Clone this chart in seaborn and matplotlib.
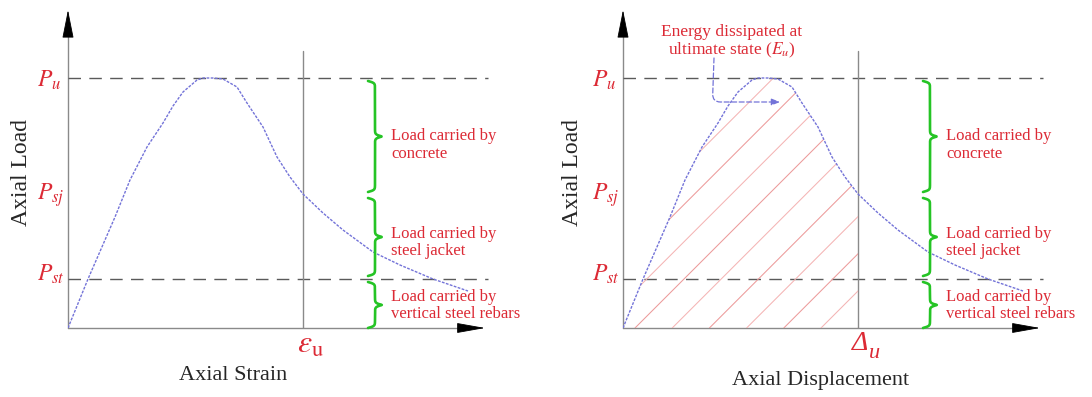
import numpy as np
import pandas as pd
import matplotlib
matplotlib.use("Agg")
import matplotlib.pyplot as plt
import seaborn as sns

# ---------------- data (normalised units) ----------------
deform = [0.00, 0.20, 0.47, 0.62, 0.79, 0.95, 1.05, 1.15, 1.29, 1.35, 1.45, 1.55, 1.69,
          1.79, 1.95, 2.09, 2.22, 2.35, 2.55, 2.75, 3.05, 3.32, 3.65, 4.00]
load = [0.000, 0.196, 0.444, 0.592, 0.724, 0.820, 0.888, 0.944, 0.992, 1.000, 1.000, 0.996,
        0.964, 0.900, 0.804, 0.684, 0.604, 0.536, 0.460, 0.392, 0.304, 0.252, 0.196, 0.148]
level_names = ["$P_{u}$", "$P_{sj}$", "$P_{st}$"]
level_values = [1.0, 0.532, 0.196]
ultimate_deform = 2.35
zone_texts = ["Load carried by\nconcrete", "Load carried by\nsteel jacket",
              "Load carried by\nvertical steel rebars"]
x_titles = ["Axial Strain", "Axial Displacement"]
y_title = "Axial Load"
energy_text = "Energy dissipated at\nultimate state ($E_u$)"

df = pd.DataFrame({"deform": deform, "load": load})

sns.set_style("white")
plt.rcParams["font.family"] = ["Liberation Serif", "DejaVu Serif"]
plt.rcParams["mathtext.fontset"] = "stix"

RED = "#dc2a35"
GREEN = "#25c425"
CURVE = "#7373d8"
GRAY = "#8a8a8a"
DASH = "#5a5a5a"

W, H = 1092, 397
fig = plt.figure(figsize=(W / 100, H / 100), dpi=100)
axL = fig.add_axes([68 / W, 69 / H, 478 / W, 328 / H])
axR = fig.add_axes([623 / W, 69 / H, 469 / W, 328 / H])


def brace(ax, y0, y1, xb):
    t = np.linspace(y0, y1, 400)
    tm = 0.5 * (y0 + y1)
    beta = 260.0
    half = np.where(t <= tm,
                    1 / (1 + np.exp(-beta * (t - y0))) + 1 / (1 + np.exp(-beta * (t - tm))),
                    1 / (1 + np.exp(beta * (t - y1))) + 1 / (1 + np.exp(beta * (t - tm))))
    xo = xb + (half - 1.0) * 0.14
    ax.plot(xo, t, color=GREEN, lw=1.9, solid_capstyle="round", clip_on=False)


for i, ax in enumerate([axL, axR]):
    ax.set_xlim(0, 4.78 if i == 0 else 4.69)
    ax.set_ylim(0, 1.312)
    ax.axis("off")

    # axes with arrows
    ax.plot([0, 3.95], [0, 0], color=GRAY, lw=1.0, clip_on=False)
    ax.plot([0, 0], [0, 1.19], color=GRAY, lw=1.0, clip_on=False)
    ax.annotate("", xy=(4.17, 0), xytext=(3.92, 0),
                arrowprops=dict(arrowstyle="-|>,head_length=1.8,head_width=0.32",
                                color="black", lw=0.6, shrinkA=0, shrinkB=0,
                                mutation_scale=10), annotation_clip=False)
    ax.annotate("", xy=(0, 1.272), xytext=(0, 1.172),
                arrowprops=dict(arrowstyle="-|>,head_length=1.8,head_width=0.36",
                                color="black", lw=0.6, shrinkA=0, shrinkB=0,
                                mutation_scale=10), annotation_clip=False)

    # reference levels
    for name, val in zip(level_names, level_values):
        if name != "$P_{sj}$":
            ax.plot([0, 4.20], [val, val], color=DASH, lw=1.0, dashes=(9, 6), clip_on=False)
        dy = {"$P_{u}$": -0.008, "$P_{sj}$": -0.002, "$P_{st}$": 0.02}[name]
        ax.text(-0.31, val + dy, name, color=RED, fontsize=17, ha="left", va="center")

    # ultimate vertical line
    ax.plot([ultimate_deform, ultimate_deform], [0, 1.11], color=GRAY, lw=1.0)

    # hatch (right panel only)
    if i == 1:
        sub = df[df["deform"] <= ultimate_deform]
        poly = ax.fill_between(sub["deform"], sub["load"], 0, facecolor="none",
                               edgecolor="none")
        clip_path = poly.get_paths()[0]
        for k in range(-10, 8):
            c = 12 + 37.2 * k
            (ln,) = ax.plot([c / 100, (c + 340) / 100], [0, 1.36],
                            color="#f4b4b4" if k % 2 else "#ec9a9a", lw=0.75)
            ln.set_clip_path(clip_path, ax.transData)

    # curve
    sns.lineplot(data=df, x="deform", y="load", ax=ax, sort=False, estimator=None,
                 color=CURVE, lw=1.0, linestyle=(0, (2, 1)))
    ax.set_xlabel("")
    ax.set_ylabel("")

    # braces
    bounds = [0.0] + level_values[::-1]
    bx = 3.07
    for j in range(3):
        lo, hi = bounds[j], bounds[j + 1]
        brace(ax, lo + (0.012 if j > 0 else 0.0), hi - 0.012, bx)
    mids = [0.732, 0.342, 0.09]
    for txt, m in zip(zone_texts, mids):
        ax.text(3.23, m, txt, color=RED, fontsize=12, ha="left", va="center",
                linespacing=1.12)

    # axis titles
    if i == 0:
        ax.text(ultimate_deform + 0.07, -0.07, r"$\varepsilon_{\mathrm{u}}$", color=RED,
                fontsize=23, ha="center", va="center")
    else:
        ax.text(ultimate_deform - 0.06, -0.062, "Δ", color=RED, fontsize=20,
                style="italic", ha="left", va="center")
        ax.text(ultimate_deform + 0.11, -0.10, "u", color=RED, fontsize=16,
                style="italic", ha="left", va="center")
    ax.text(1.65 if i == 0 else 1.98, -0.188 if i == 0 else -0.208, x_titles[i],
            fontsize=16, ha="center", va="center")
    ax.text(-0.46 if i == 0 else -0.50, 0.62, y_title, fontsize=17, rotation=90,
            ha="center", va="center")

# energy annotation
axR.text(1.09, 1.144, energy_text, color=RED, fontsize=12.5, ha="center", va="center",
         linespacing=1.1)
axR.annotate("", xy=(1.57, 0.904), xytext=(0.91, 1.08),
             arrowprops=dict(arrowstyle="-|>,head_length=0.5,head_width=0.2",
                             color=CURVE, lw=0.9, linestyle=(0, (4, 2)),
                             connectionstyle="angle,angleA=-92,angleB=0,rad=8",
                             shrinkA=0, shrinkB=0, mutation_scale=10),
             annotation_clip=False)

fig.savefig("out.png", dpi=100)
